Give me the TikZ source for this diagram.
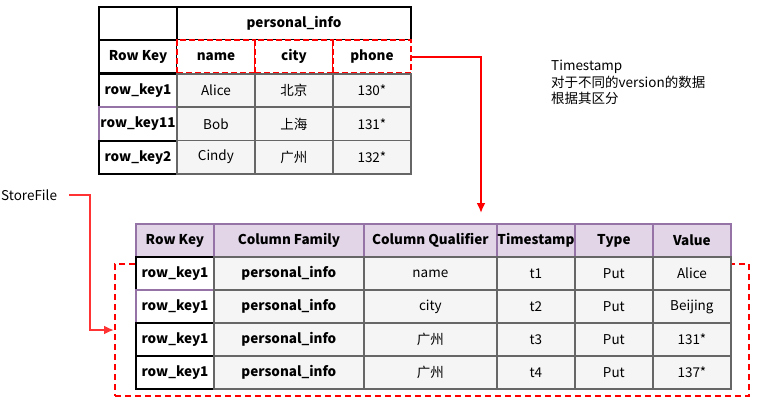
\documentclass[tikz,border=0pt]{standalone}
\usepackage{fontspec}
\setmainfont{Noto Sans CJK SC}
\usepackage{tikz}
\usetikzlibrary{arrows.meta,positioning}

\definecolor{cellgray}{HTML}{F5F5F5}
\definecolor{linegray}{HTML}{666666}
\definecolor{headpurple}{HTML}{E1D5E7}
\definecolor{keypurple}{HTML}{9673A6}

\tikzset{
  cell/.style={minimum height=33.3pt, minimum width=78pt, inner sep=0pt,
    anchor=north west, font=\fontsize{13.5}{16}\selectfont},
  keycell/.style={cell, draw=black, line width=2pt, fill=white, font=\fontsize{13.5}{16}\selectfont\bfseries},
  datacell/.style={cell, draw=linegray, line width=1.8pt, fill=cellgray},
  qualcell/.style={cell, draw=red, dashed, dash pattern=on 6pt off 3pt, line width=2pt, fill=white,
    font=\fontsize{13.5}{16}\selectfont\bfseries},
  headcell/.style={cell, draw=keypurple, line width=1.8pt, fill=headpurple,
    font=\fontsize{13.5}{16}\selectfont\bfseries},
  redarrow/.style={-{Latex[length=10pt,width=9pt]}, red, line width=2pt},
}

\begin{document}
\begin{tikzpicture}[x=1pt,y=-1pt]
  \useasboundingbox (0,0) rectangle (766,407);

  % StoreFile frame, behind the lower table
  \node[draw=red, dashed, dash pattern=on 6pt off 4pt, line width=2pt,
    minimum width=634pt, minimum height=132pt, inner sep=0pt, anchor=north west]
    (store) at (114,263) {};

  % Upper table: column family view
  \node[keycell] (blank) at (98,6) {};
  \node[keycell, minimum width=234pt] (family) at (176,6) {personal\_info};
  \node[keycell] (rowkey) at (98,39) {Row Key};
  \foreach \q [count=\i from 0] in {name,city,phone}
    \node[qualcell] (\q) at ({176+78*\i},39) {\q};

  \foreach \kc/\k/\a/\b/\c [count=\r from 0] in
    {black/row\_key1/Alice/北京/130*, keypurple/row\_key11/Bob/上海/131*, black/row\_key2/Cindy/广州/132*}
  {
    \node[keycell, draw=\kc] (k\r) at (98,{73+33.3*\r}) {\k};
    \node[datacell] (a\r) at (176,{73+33.3*\r}) {\a};
    \node[datacell] (b\r) at (254,{73+33.3*\r}) {\b};
    \node[datacell] (c\r) at (332,{73+33.3*\r}) {\c};
  }

  % Note on timestamps
  \node[align=left, anchor=north west, inner sep=0pt,
    font=\fontsize{13.5}{16.5}\selectfont] (note) at (551,60)
    {Timestamp\\对于不同的version的数据\\根据其区分};

  % Lower table: key value view
  \foreach \h/\x/\w in {Row Key/135/78, Column Family/213/150, Column Qualifier/363/133,
    Timestamp/496/78, Type/574/78, Value/652/78}
    \node[headcell, minimum width=\w pt] at (\x,223) {\h};

  \foreach \kc/\q/\t/\v [count=\r from 0] in
    {black/name/t1/Alice, keypurple/city/t2/Beijing, black/广州/t3/131*, black/广州/t4/137*}
  {
    \node[keycell, draw=\kc] (rk\r) at (135,{256+33*\r}) {row\_key1};
    \node[datacell, minimum width=150pt, font=\fontsize{13.5}{16}\selectfont\bfseries]
      (cf\r) at (213,{256+33*\r}) {personal\_info};
    \node[datacell, minimum width=133pt] (cq\r) at (363,{256+33*\r}) {\q};
    \node[datacell] (ts\r) at (496,{256+33*\r}) {\t};
    \node[datacell] (ty\r) at (574,{256+33*\r}) {Put};
    \node[datacell] (va\r) at (652,{256+33*\r}) {\v};
  }

  % Connectors
  \coordinate (drop) at (481,213);
  \draw[redarrow] (phone.east) -| (drop);

  \node[anchor=west, inner sep=0pt, font=\fontsize{13.5}{16}\selectfont] (storefile) at (1,195) {StoreFile};
  \coordinate (bend) at (90,195);
  \draw[redarrow, red!80, shorten <=12pt] (storefile.east) -- (bend) |- (store.west);

\end{tikzpicture}
\end{document}
